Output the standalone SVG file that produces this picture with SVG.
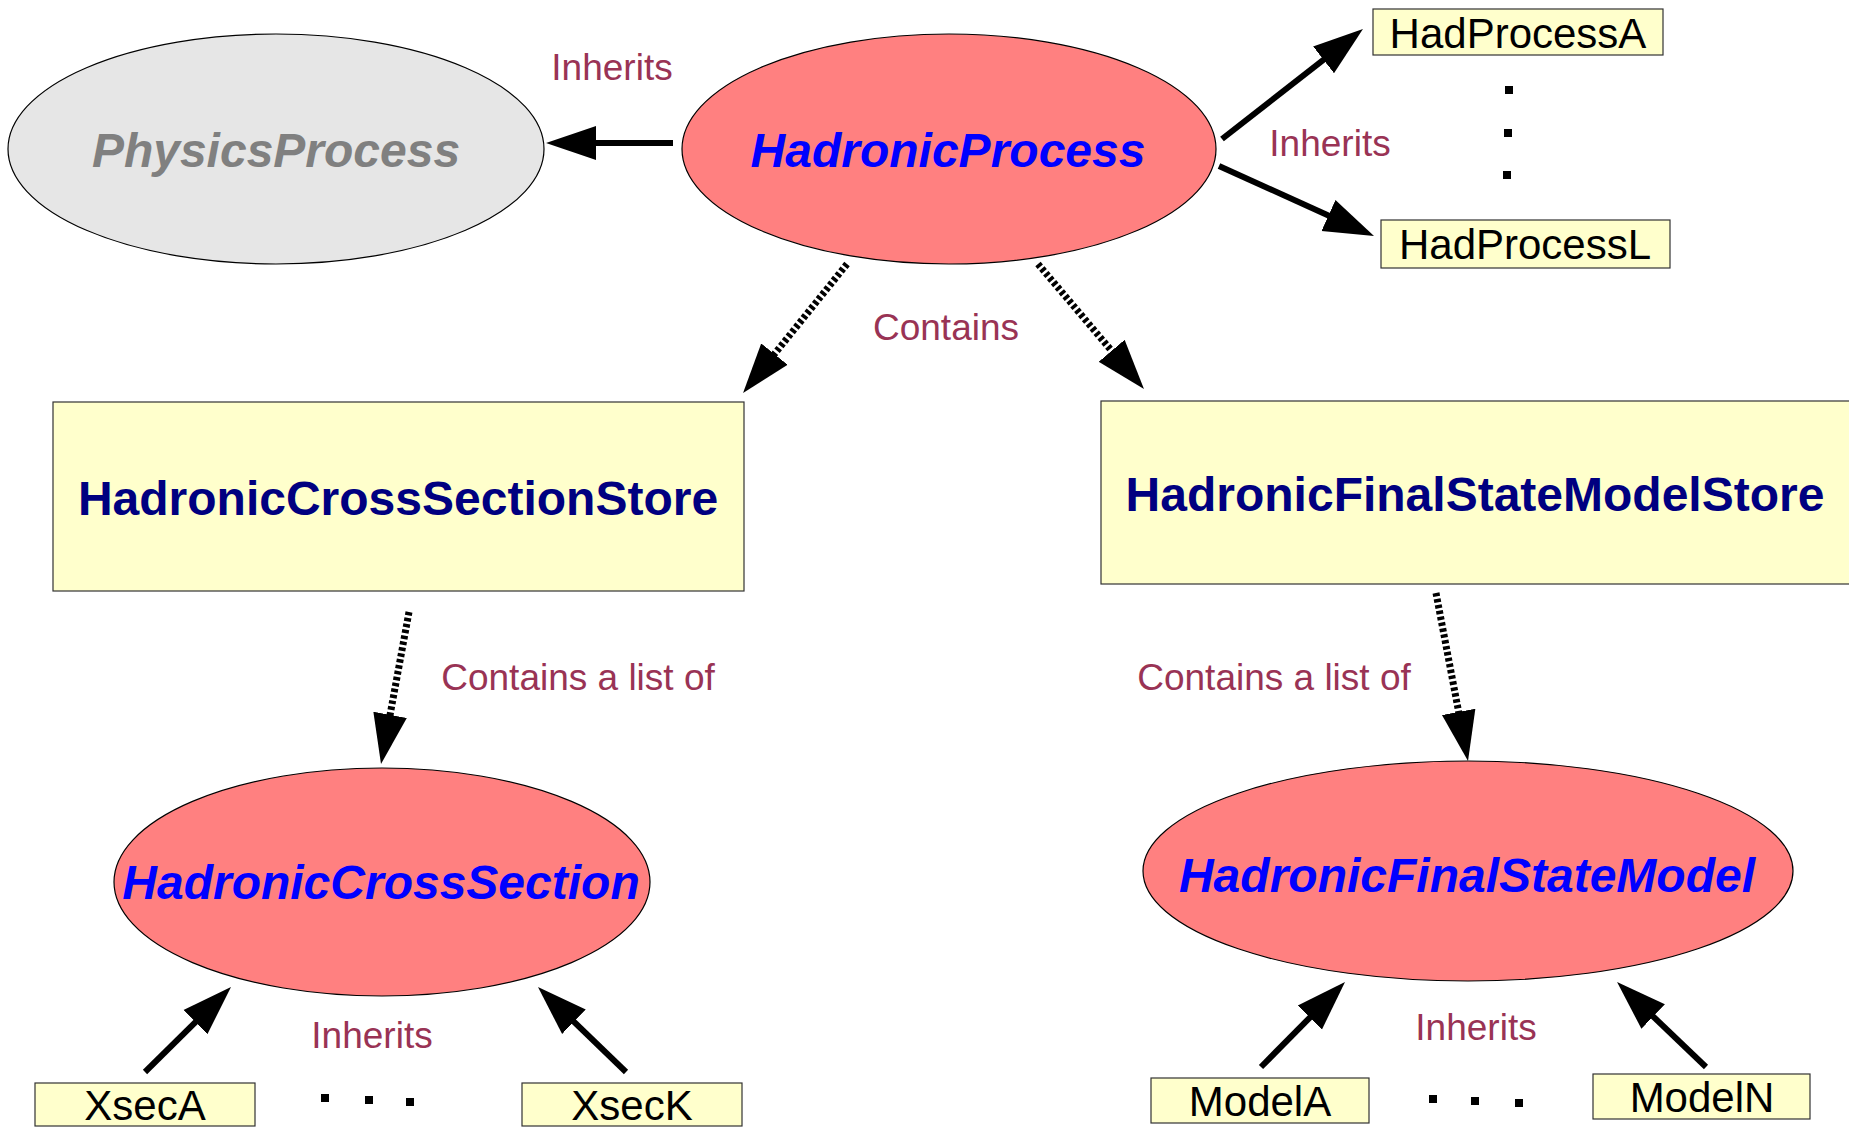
<svg xmlns="http://www.w3.org/2000/svg" width="1849" height="1127" viewBox="0 0 1849 1127">
<defs>
<style>
.ell{stroke:#000;stroke-width:1.2}
.red{fill:#ff8080}
.gray{fill:#e6e6e6}
.box{fill:#ffffcc;stroke:#333;stroke-width:1.2}
.t-it{font-family:"Liberation Sans",Arial,sans-serif;font-weight:bold;font-style:italic;font-size:48px;text-anchor:middle}
.t-st{font-family:"Liberation Sans",Arial,sans-serif;font-weight:bold;font-size:48px;text-anchor:middle;fill:#000080}
.t-bx{font-family:"Liberation Sans",Arial,sans-serif;font-size:42px;text-anchor:middle;fill:#000}
.lbl{font-family:"Liberation Sans",Arial,sans-serif;font-size:37px;text-anchor:middle;fill:#993355}
.solid{stroke:#000;stroke-width:6;fill:none;marker-end:url(#head)}
.dash{stroke:#000;stroke-width:7;fill:none;stroke-dasharray:3.5 2.5;marker-end:url(#head)}
.dot{fill:#000}
</style>
<marker id="head" markerUnits="userSpaceOnUse" viewBox="0 -18 50 36" markerWidth="50" markerHeight="36" refX="12" refY="0" orient="auto">
<path d="M0,-17 L50,0 L0,17 Z" fill="#000"/>
</marker>
</defs>

<g id="connectors">
<line class="solid" x1="673" y1="143" x2="584" y2="143"/>
<line class="solid" x1="1222" y1="139" x2="1333" y2="52.4"/>
<line class="solid" x1="1219" y1="166" x2="1339.4" y2="220.4"/>
<line class="dash" x1="847" y1="264" x2="766.9" y2="363.4"/>
<line class="dash" x1="1038" y1="264" x2="1119.4" y2="360"/>
<line class="dash" x1="409" y1="612" x2="387.9" y2="726.6"/>
<line class="dash" x1="1436" y1="593" x2="1460.9" y2="723.7"/>
<line class="solid" x1="145" y1="1072" x2="204" y2="1013.7"/>
<line class="solid" x1="626" y1="1072" x2="565.3" y2="1013.4"/>
<line class="solid" x1="1261" y1="1067" x2="1318.3" y2="1009"/>
<line class="solid" x1="1706" y1="1067" x2="1644.5" y2="1008.2"/>
</g>

<g id="labels">
<text class="lbl" x="612" y="80">Inherits</text>
<text class="lbl" x="1330" y="156">Inherits</text>
<text class="lbl" x="946" y="340">Contains</text>
<text class="lbl" x="578" y="690">Contains a list of</text>
<text class="lbl" x="1274" y="690">Contains a list of</text>
<text class="lbl" x="372" y="1048">Inherits</text>
<text class="lbl" x="1476" y="1040">Inherits</text>
</g>

<g id="PhysicsProcess">
<ellipse class="ell gray" cx="276" cy="149" rx="268" ry="115"/>
<text class="t-it" x="276" y="167" fill="#808080">PhysicsProcess</text>
</g>

<g id="HadronicProcess">
<ellipse class="ell red" cx="949" cy="149" rx="267" ry="115"/>
<text class="t-it" x="948" y="167" fill="#0000ff">HadronicProcess</text>
</g>

<g id="HadProcessA">
<rect class="box" x="1373" y="9" width="290" height="46"/>
<text class="t-bx" x="1518" y="48">HadProcessA</text>
</g>

<g id="HadProcessL">
<rect class="box" x="1381" y="220" width="289" height="48"/>
<text class="t-bx" x="1525" y="259">HadProcessL</text>
</g>

<g id="dots-processes">
<rect class="dot" x="1505" y="86" width="8" height="8"/>
<rect class="dot" x="1504" y="129" width="8" height="8"/>
<rect class="dot" x="1503" y="171" width="8" height="8"/>
</g>

<g id="HadronicCrossSectionStore">
<rect class="box" x="53" y="402" width="691" height="189"/>
<text class="t-st" x="398" y="515">HadronicCrossSectionStore</text>
</g>

<g id="HadronicFinalStateModelStore">
<rect class="box" x="1101" y="401" width="760" height="183"/>
<text class="t-st" x="1475" y="511">HadronicFinalStateModelStore</text>
</g>

<g id="HadronicCrossSection">
<ellipse class="ell red" cx="382" cy="882" rx="268" ry="114"/>
<text class="t-it" x="381" y="899" fill="#0000ff">HadronicCrossSection</text>
</g>

<g id="HadronicFinalStateModel">
<ellipse class="ell red" cx="1468" cy="871" rx="325" ry="110"/>
<text class="t-it" x="1467" y="892" fill="#0000ff">HadronicFinalStateModel</text>
</g>

<g id="XsecA">
<rect class="box" x="35" y="1083" width="220" height="43"/>
<text class="t-bx" x="145" y="1120">XsecA</text>
</g>

<g id="XsecK">
<rect class="box" x="522" y="1083" width="220" height="43"/>
<text class="t-bx" x="632" y="1120">XsecK</text>
</g>

<g id="dots-xsec">
<rect class="dot" x="321" y="1094" width="8" height="8"/>
<rect class="dot" x="365" y="1096" width="8" height="8"/>
<rect class="dot" x="406" y="1098" width="8" height="8"/>
</g>

<g id="ModelA">
<rect class="box" x="1151" y="1078" width="218" height="45"/>
<text class="t-bx" x="1260" y="1116">ModelA</text>
</g>

<g id="ModelN">
<rect class="box" x="1593" y="1074" width="217" height="45"/>
<text class="t-bx" x="1702" y="1112">ModelN</text>
</g>

<g id="dots-models">
<rect class="dot" x="1429" y="1095" width="8" height="8"/>
<rect class="dot" x="1471" y="1097" width="8" height="8"/>
<rect class="dot" x="1515" y="1099" width="8" height="8"/>
</g>
</svg>
